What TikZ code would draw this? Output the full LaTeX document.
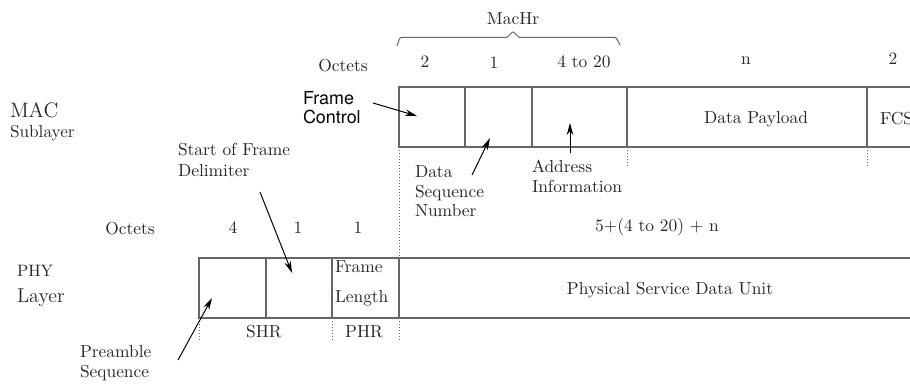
\documentclass[tikz,border=0pt]{standalone}
\usepackage{fontspec}
\newfontfamily\helv{TeX Gyre Heros}
\usetikzlibrary{arrows.meta}
\definecolor{txt}{gray}{0.15}
\definecolor{linec}{gray}{0.40}
\begin{document}
\begin{tikzpicture}[x=1pt,y=-1pt,
  every node/.style={inner sep=0pt, outer sep=0pt},
  t/.style={scale=1.74, font=\fontsize{10}{11.5}\selectfont, text=txt},
  cell/.style={draw=linec, line width=1.6pt, anchor=north west, minimum height=60pt},
  dotl/.style={draw=linec, line width=1pt, dotted},
  arr/.style={-{Stealth[length=12pt,width=6.5pt]}, line width=1pt, draw=black},
  lbl/.style={t, align=left, anchor=north west},
]
\useasboundingbox (0,0) rectangle (910,385);
\clip (0,0) rectangle (910,385);

% MAC row
\node[cell, minimum width=66pt]  (fc)   at (399,87) {};
\node[cell, minimum width=67pt]  (seq)  at (465,87) {};
\node[cell, minimum width=95pt]  (addr) at (532,87) {};
\node[cell, minimum width=240pt] (pay)  at (627,87) {};
\node[cell, minimum width=100pt] (fcs)  at (867,87) {};
\node[t] (payl) at (756,119) {Data Payload};
\node[t, anchor=west] (fcsl) at (880,119) {FCS};

% PHY row
\node[cell, minimum width=67pt]  (pre)  at (199,258) {};
\node[cell, minimum width=66pt]  (sfd)  at (266,258) {};
\node[cell, minimum width=67pt]  (len)  at (332,258) {};
\node[cell, minimum width=560pt] (psdu) at (399,258) {};
\node[t] (psdul) at (670,290) {Physical Service Data Unit};
\node[lbl, font=\fontsize{10}{17.2}\selectfont] (lenl) at (335,261) {Frame\\Length};

% dotted guides
\draw[dotl] (fc.south west) -- (len.north east);
\draw[dotl] (len.south east) -- ++(0,22);
\draw[dotl] (pre.south west) -- ++(0,22);
\draw[dotl] (len.south west) -- ++(0,22);
\draw[dotl] (pay.south west) -- ++(0,20);
\draw[dotl] (fcs.south west) -- ++(0,20);

% brace
\coordinate (bl) at (397,46);
\coordinate (br) at (620,45);
\coordinate (btip) at (513,31.5);
\draw[linec, line width=1pt, rounded corners=1pt]
  (bl) -- (400,37.5) -- (507,37.5) -- (btip) -- (519,37.5) -- (616,37.5) -- (br);
\node[t] (machr) at (513,19) {MacHr};

% octets top
\node[t] (oct1) at (343,66) {Octets};
\node[t] (n1) at (425,62) {2};
\node[t] (n2) at (494,63) {1};
\node[t] (n3) at (584,62) {4 to 20};
\node[t] (n4) at (746,61) {n};
\node[t] (n5) at (893,59) {2};

% octets bottom
\node[t] (oct2) at (130,229) {Octets};
\node[t] (m1) at (233,228) {4};
\node[t] (m2) at (298,228) {1};
\node[t] (m3) at (358,228) {1};
\node[t] (tot) at (657,227) {5+(4 to 20) + n};

\node[t] (shr) at (264,332) {SHR};
\node[t] (phr) at (364,332) {PHR};

% layer labels
\node[t, anchor=west, font=\fontsize{12}{14}\selectfont] (mac) at (10,110) {MAC};
\node[t, anchor=west, font=\fontsize{9.9}{12}\selectfont] (subl) at (10,133) {Sublayer};
\node[t, anchor=west, font=\fontsize{9.5}{12}\selectfont] (phy) at (17,271) {PHY};
\node[t, anchor=west, font=\fontsize{11.5}{14}\selectfont] (layer) at (17,298) {Layer};

% field descriptions
\node[lbl, font=\helv\fontsize{10.3}{10.9}\selectfont, text=black] (fctl) at (303,91) {Frame\\Control};
\node[lbl, font=\fontsize{10}{11.2}\selectfont] (dsn) at (415,166) {Data\\Sequence\\Number};
\node[lbl, font=\fontsize{10}{11.5}\selectfont] (addrl) at (532,160) {Address\\Information};
\node[lbl, font=\fontsize{10}{12.1}\selectfont] (sfdl) at (178,143) {Start of Frame\\Delimiter};
\node[lbl, font=\fontsize{10}{11.5}\selectfont] (prel) at (80,345) {Preamble\\Sequence};

% arrows
\coordinate (fcA) at (373,103);  \coordinate (fcB) at (417,116);
\coordinate (sqA) at (472,175);  \coordinate (sqB) at (490,138);
\coordinate (adA) at (570,153);  \coordinate (adB) at (570,123);
\coordinate (sfA) at (260,192);  \coordinate (sfB) at (292,273);
\coordinate (prA) at (178,360);  \coordinate (prB) at (212,298);
\draw[arr] (fcA) -- (fcB);
\draw[arr] (sqA) -- (sqB);
\draw[arr] (adA) -- (adB);
\draw[arr] (sfA) -- (sfB);
\draw[arr] (prA) -- (prB);
\end{tikzpicture}
\end{document}
